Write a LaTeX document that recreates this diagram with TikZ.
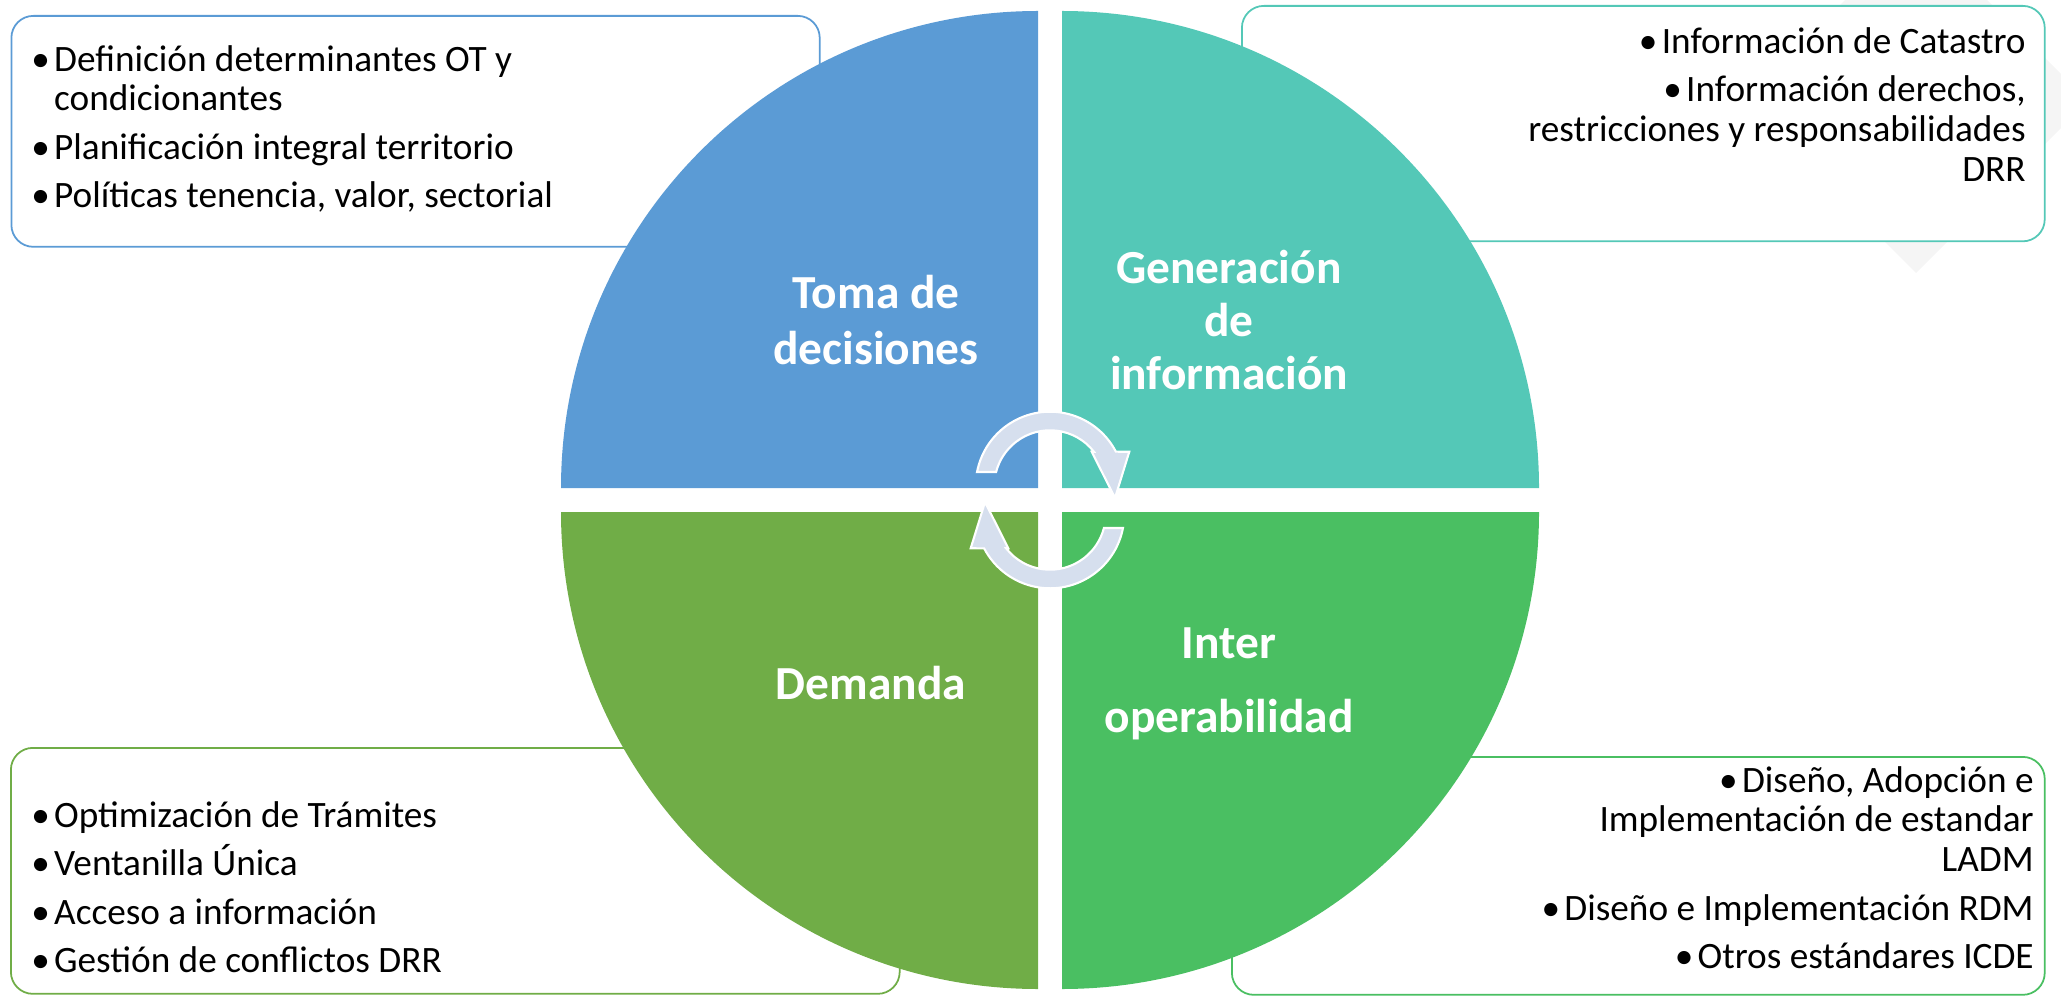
\documentclass[tikz,border=0pt]{standalone}
\usepackage{fontspec}
\setmainfont{Carlito}
\usetikzlibrary{positioning}
\definecolor{qblue}{RGB}{91,155,213}
\definecolor{qteal}{RGB}{84,200,183}
\definecolor{qolive}{RGB}{112,173,71}
\definecolor{qgreen}{RGB}{74,191,98}
\definecolor{arrowfill}{RGB}{214,223,238}
\definecolor{faintgray}{RGB}{245,245,245}
\newcommand{\itembul}{\makebox[13pt][l]{\textbullet}}
\tikzset{
	infobox/.style={draw=#1, line width=1pt, fill=white, rounded corners=4.4mm, inner sep=0pt},
	itemtext/.style={inner sep=0pt, font=\fontsize{21.2pt}{22.6pt}\selectfont},
	quadlabel/.style={inner sep=0pt, text=white, align=center, font=\fontsize{27pt}{32pt}\selectfont\bfseries},
	cyclearrow/.style={fill=arrowfill, draw=white, line width=1.2pt}
}
\begin{document}
\begin{tikzpicture}[x=0.02cm, y=0.02cm]
	\useasboundingbox (0,0) rectangle (2061,995);
	\fill[faintgray] (1916,722) -- (2088,894) -- (1916,1066) -- (1744,894) -- cycle;
	
	\node[infobox=qblue, minimum width=16.17cm, minimum height=4.62cm, anchor=north west] (boxTL) at (10.5,980) {};
	\node[infobox=qteal, minimum width=16.06cm, minimum height=4.71cm, anchor=north west] (boxTR) at (1241,990) {};
	\node[infobox=qolive, minimum width=17.78cm, minimum height=4.92cm, anchor=north west] (boxBL) at (10,248) {};
	\node[infobox=qgreen, minimum width=16.26cm, minimum height=4.76cm, anchor=north west] (boxBR) at (1231,239) {};
	
	\fill[qblue] (1038,507) -- (561,507) arc[start angle=180, end angle=90, radius=477] -- cycle;
	\fill[qteal] (1062,507) -- (1062,984) arc[start angle=90, end angle=0, radius=477] -- cycle;
	\fill[qolive] (1038,483) -- (1038,6) arc[start angle=270, end angle=180, radius=477] -- cycle;
	\fill[qgreen] (1062,483) -- (1539,483) arc[start angle=0, end angle=-90, radius=477] -- cycle;
	
	\node[itemtext, align=left, anchor=north west] (itemsTL) at (31,950) {\itembul Definición determinantes OT y\\\phantom{\itembul}condicionantes\\[5pt]\itembul Planificación integral territorio\\[5pt]\itembul Políticas tenencia, valor, sectorial};
	\node[itemtext, align=right, anchor=north east] (itemsTR) at (2026,968) {\itembul Información de Catastro\\[5pt]\itembul Información derechos,\\restricciones y responsabilidades\\DRR};
	\node[itemtext, align=left, anchor=north west] (itemsBL) at (31,194) {\itembul Optimización de Trámites\\[5pt]\itembul Ventanilla Única\\[5pt]\itembul Acceso a información\\[5pt]\itembul Gestión de conflictos DRR};
	\node[itemtext, align=right, anchor=north east] (itemsBR) at (2034,229) {\itembul Diseño, Adopción e\\Implementación de estandar\\LADM\\[5pt]\itembul Diseño e Implementación RDM\\[5pt]\itembul Otros estándares ICDE};
	
	\node[quadlabel] (tomaLbl) at (876,675) {Toma de\\decisiones};
	\node[quadlabel, font=\fontsize{27pt}{30pt}\selectfont\bfseries] (genLbl) at (1229,675) {Generación\\de\\información};
	\node[quadlabel] (demandaLbl) at (871,312) {Demanda};
	\node[quadlabel] (interLbl) at (1229,311) {Inter\\[10pt]operabilidad};
	
	\begin{scope}[shift={(1050,509)}]
		\filldraw[cyclearrow] (169.1:74.3) arc[start angle=169.1, end angle=27.5, radius=74.3] -- (79.3,34.3) -- (65,-12) -- (41.7,34.3) -- (38:55.7) arc[start angle=38, end angle=165.4, radius=55.7] -- cycle;
	\end{scope}
	\begin{scope}[shift={(1050,481)}, rotate=180]
		\filldraw[cyclearrow] (169.1:74.3) arc[start angle=169.1, end angle=27.5, radius=74.3] -- (79.3,34.3) -- (65,-12) -- (41.7,34.3) -- (38:55.7) arc[start angle=38, end angle=165.4, radius=55.7] -- cycle;
	\end{scope}
\end{tikzpicture}
\end{document}
